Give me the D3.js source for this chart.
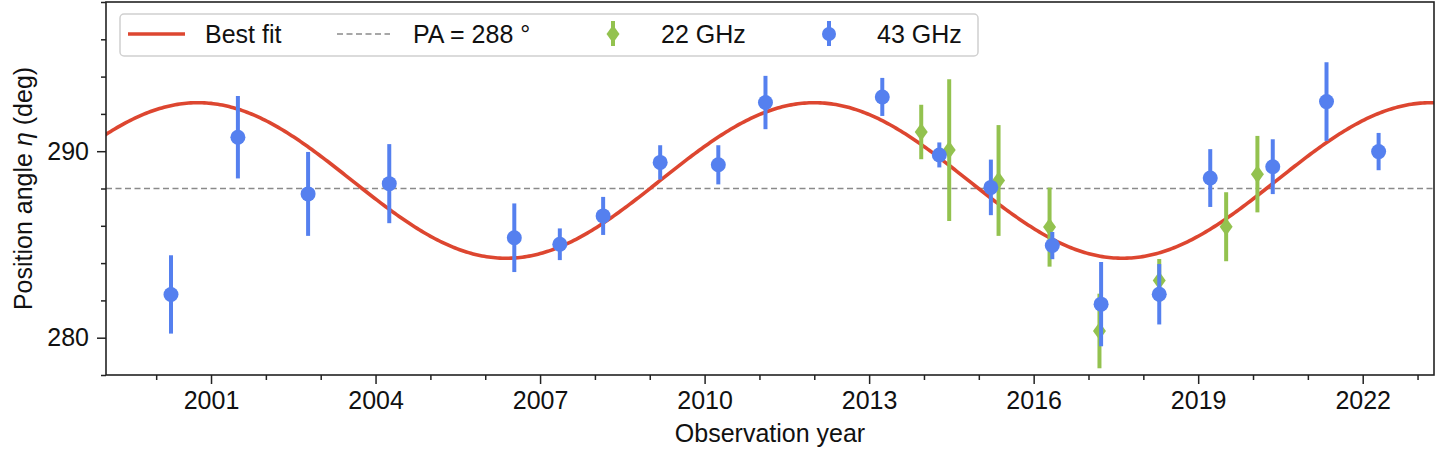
<!DOCTYPE html>
<html>
<head>
<meta charset="utf-8">
<script src="https://cdn.jsdelivr.net/npm/d3@7"></script>
<style>
  html, body { margin: 0; padding: 0; background: #fff; }
  svg { display: block; }
  text { font-family: "Liberation Sans", Arial, Helvetica, sans-serif; fill: #111; }
</style>
</head>
<body>
<svg id="chart" width="1448" height="454"></svg>
<script>
// ---- Data ----
const years43 = [2000.27, 2001.49, 2002.77, 2004.25, 2006.53, 2007.36, 2008.15, 2009.19, 2010.25, 2011.11, 2013.24, 2014.28, 2015.22, 2016.34, 2017.23, 2018.29, 2019.22, 2020.36, 2021.34, 2022.29];
const pa43    = [282.32, 290.75, 287.71, 288.26, 285.36, 285.01, 286.53, 289.40, 289.27, 292.61, 292.91, 289.80, 288.06, 284.94, 281.80, 282.33, 288.56, 289.17, 292.66, 289.98];
const err43   = [2.10, 2.21, 2.25, 2.12, 1.84, 0.85, 1.02, 0.92, 1.05, 1.43, 1.02, 0.67, 1.49, 0.73, 2.26, 1.62, 1.55, 1.47, 2.11, 1.00];

const years22 = [2013.95, 2014.46, 2015.36, 2016.29, 2017.20, 2018.29, 2019.51, 2020.08];
const pa22    = [291.03, 290.06, 288.43, 285.93, 280.36, 283.07, 285.95, 288.77];
const err22   = [1.46, 3.80, 2.97, 2.12, 2.00, 1.15, 1.85, 2.05];

// Best-fit sinusoid parameters
const fitOffset = 288.43;
const fitAmplitude = 4.17;
const fitPeriod = 11.24;
const fitPeakYear = 2012.0;
const referencePA = 288;

const xMajorTicks = [2001, 2004, 2007, 2010, 2013, 2016, 2019, 2022];
const xMinorTicks = [2000, 2002, 2003, 2005, 2006, 2008, 2009, 2011, 2012, 2014, 2015, 2017, 2018, 2020, 2021, 2023];
const yMajorTicks = [280, 290];
const yMinorTicks = [278, 282, 284, 286, 288, 292, 294, 296, 298];

const legendLabels = ["Best fit", "PA = 288 °", "22 GHz", "43 GHz"];
const xTitle = "Observation year";

// ---- Layout ----
const svg = d3.select("#chart");
const L = 106, R = 1434, T = 2, B = 375;
const x = d3.scaleLinear().domain([1999.085, 2023.30]).range([L, R]);
const y = d3.scaleLinear().domain([278, 298]).range([B, T]);

const RED = "#dd4630", BLUE = "#5580ef", GREEN = "#93c24f", GREY = "#8a8a8a";
const FS = 25;

const clipId = "plotclip";
svg.append("defs").append("clipPath").attr("id", clipId)
  .append("rect").attr("x", L).attr("y", T).attr("width", R - L).attr("height", B - T);

const plot = svg.append("g").attr("clip-path", `url(#${clipId})`);

// reference PA dashed line
plot.append("line")
  .attr("x1", L).attr("x2", R)
  .attr("y1", y(referencePA)).attr("y2", y(referencePA))
  .attr("stroke", GREY).attr("stroke-width", 1.6).attr("stroke-dasharray", "6,3.5");

// best fit curve
const fitYears = d3.range(0, 601).map(i => 1999.0 + i * (2023.5 - 1999.0) / 600);
const fitLine = d3.line()
  .x(d => x(d))
  .y(d => y(fitOffset + fitAmplitude * Math.cos(2 * Math.PI * (d - fitPeakYear) / fitPeriod)));
plot.append("path").datum(fitYears)
  .attr("d", fitLine).attr("fill", "none")
  .attr("stroke", RED).attr("stroke-width", 3.6);

// 22 GHz points
const g22 = plot.append("g");
years22.forEach((yr, i) => {
  g22.append("line")
    .attr("x1", x(yr)).attr("x2", x(yr))
    .attr("y1", y(pa22[i] - err22[i])).attr("y2", y(pa22[i] + err22[i]))
    .attr("stroke", GREEN).attr("stroke-width", 4);
});
const diamond = (cx, cy, w, h) => `M${cx},${cy - h / 2}L${cx + w / 2},${cy}L${cx},${cy + h / 2}L${cx - w / 2},${cy}Z`;
years22.forEach((yr, i) => {
  g22.append("path").attr("d", diamond(x(yr), y(pa22[i]), 13, 18)).attr("fill", GREEN);
});

// 43 GHz points
const g43 = plot.append("g");
years43.forEach((yr, i) => {
  g43.append("line")
    .attr("x1", x(yr)).attr("x2", x(yr))
    .attr("y1", y(pa43[i] - err43[i])).attr("y2", y(pa43[i] + err43[i]))
    .attr("stroke", BLUE).attr("stroke-width", 4);
});
years43.forEach((yr, i) => {
  g43.append("circle").attr("cx", x(yr)).attr("cy", y(pa43[i])).attr("r", 7.5).attr("fill", BLUE);
});

// ---- Axes ----
const xAxisMajor = d3.axisBottom(x).tickValues(xMajorTicks).tickFormat(d3.format("d")).tickSize(9).tickPadding(7);
const xAxisMinor = d3.axisBottom(x).tickValues(xMinorTicks).tickFormat("").tickSize(5);
const yAxisMajor = d3.axisLeft(y).tickValues(yMajorTicks).tickFormat(d3.format("d")).tickSize(9).tickPadding(8);
const yAxisMinor = d3.axisLeft(y).tickValues(yMinorTicks).tickFormat("").tickSize(5);

function styleAxis(g) {
  g.select(".domain").remove();
  g.selectAll(".tick line").attr("stroke", "#222").attr("stroke-width", 1.5);
  g.selectAll(".tick text").attr("font-size", FS).attr("font-family", "Liberation Sans, Arial, sans-serif").attr("fill", "#111");
}
svg.append("g").attr("transform", `translate(0,${B})`).call(xAxisMinor).call(styleAxis);
svg.append("g").attr("transform", `translate(0,${B})`).call(xAxisMajor).call(styleAxis);
svg.append("g").attr("transform", `translate(${L},0)`).call(yAxisMinor).call(styleAxis);
svg.append("g").attr("transform", `translate(${L},0)`).call(yAxisMajor).call(styleAxis);

// frame
svg.append("rect").attr("x", L).attr("y", T).attr("width", R - L).attr("height", B - T)
  .attr("fill", "none").attr("stroke", "#222").attr("stroke-width", 1.6);

// axis titles
svg.append("text").attr("x", (L + R) / 2).attr("y", 442).attr("text-anchor", "middle")
  .attr("font-size", FS).text(xTitle);

const yt = svg.append("text").attr("transform", `translate(32,${(T + B) / 2}) rotate(-90)`)
  .attr("text-anchor", "middle").attr("font-size", FS);
yt.append("tspan").text("Position angle ");
yt.append("tspan").attr("font-style", "italic").text("η");
yt.append("tspan").text(" (deg)");

// ---- Legend ----
const lg = svg.append("g");
lg.append("rect").attr("x", 120).attr("y", 14).attr("width", 858).attr("height", 42).attr("rx", 4)
  .attr("fill", "#fff").attr("stroke", "#d0d0d0").attr("stroke-width", 1.5);
const ly = 34, lty = 42.5;
lg.append("line").attr("x1", 128).attr("x2", 185).attr("y1", ly).attr("y2", ly)
  .attr("stroke", RED).attr("stroke-width", 3.6);
lg.append("text").attr("x", 205).attr("y", lty).attr("font-size", FS).text(legendLabels[0]);
lg.append("line").attr("x1", 337).attr("x2", 390).attr("y1", ly).attr("y2", ly)
  .attr("stroke", GREY).attr("stroke-width", 1.6).attr("stroke-dasharray", "6,3.5");
lg.append("text").attr("x", 413).attr("y", lty).attr("font-size", FS).text(legendLabels[1]);
lg.append("line").attr("x1", 613).attr("x2", 613).attr("y1", 21).attr("y2", 46)
  .attr("stroke", GREEN).attr("stroke-width", 4);
lg.append("path").attr("d", diamond(613, ly, 13, 18)).attr("fill", GREEN);
lg.append("text").attr("x", 661).attr("y", lty).attr("font-size", FS).text(legendLabels[2]);
lg.append("line").attr("x1", 829).attr("x2", 829).attr("y1", 21).attr("y2", 46)
  .attr("stroke", BLUE).attr("stroke-width", 4);
lg.append("circle").attr("cx", 829).attr("cy", ly).attr("r", 7).attr("fill", BLUE);
lg.append("text").attr("x", 877).attr("y", lty).attr("font-size", FS).text(legendLabels[3]);
</script>
</body>
</html>
